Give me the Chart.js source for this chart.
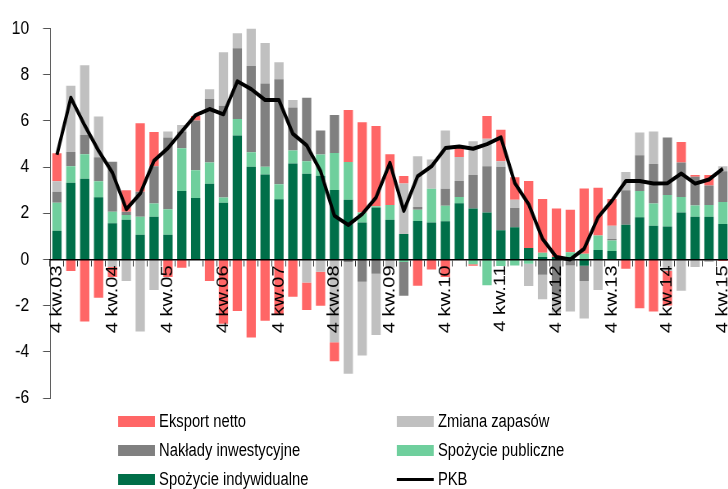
<!DOCTYPE html>
<html>
<head>
<meta charset="utf-8">
<script src="https://cdn.jsdelivr.net/npm/chart.js@4"></script>
<style>
html,body{margin:0;padding:0;width:728px;height:489px;overflow:hidden;background:#fff;}
#wrap{position:absolute;left:0;top:0;width:890px;height:489px;transform:scaleX(0.82);transform-origin:0 0;}
#c{position:absolute;left:0;top:0;}
#legend{position:absolute;left:0;top:0;width:890px;height:489px;font-family:'Liberation Sans',Arial,sans-serif;font-size:18px;color:#000;pointer-events:none;}
.item{position:absolute;height:22px;line-height:22px;white-space:nowrap;}
.sw{position:absolute;left:0;}
.tx{position:absolute;left:50px;top:0;}
</style>
</head>
<body>
<div id="wrap">
<canvas id="c" width="890" height="489"></canvas>
<div id="legend"></div>
</div>
<script>
const categories = [
 '4 kw.03',
 '1 kw.04','2 kw.04','3 kw.04','4 kw.04',
 '1 kw.05','2 kw.05','3 kw.05','4 kw.05',
 '1 kw.06','2 kw.06','3 kw.06','4 kw.06',
 '1 kw.07','2 kw.07','3 kw.07','4 kw.07',
 '1 kw.08','2 kw.08','3 kw.08','4 kw.08',
 '1 kw.09','2 kw.09','3 kw.09','4 kw.09',
 '1 kw.10','2 kw.10','3 kw.10','4 kw.10',
 '1 kw.11','2 kw.11','3 kw.11','4 kw.11',
 '1 kw.12','2 kw.12','3 kw.12','4 kw.12',
 '1 kw.13','2 kw.13','3 kw.13','4 kw.13',
 '1 kw.14','2 kw.14','3 kw.14','4 kw.14',
 '1 kw.15','2 kw.15','3 kw.15','4 kw.15'
];
const spozycieIndywidualne = [1.24,3.32,3.49,2.69,1.56,1.72,1.07,1.85,1.07,2.96,2.66,3.28,2.45,5.36,4.01,3.68,2.60,4.15,3.71,3.62,3.00,2.58,1.60,2.25,1.72,1.10,1.66,1.60,1.65,2.43,2.20,2.03,1.26,1.39,0.49,0.10,0.10,0.10,-0.27,0.41,0.36,1.50,1.82,1.46,1.42,2.03,1.85,1.85,1.53];
const spozyciePubliczne = [1.21,0.71,1.06,0.69,0.50,0.20,0.78,0.57,1.10,1.85,1.20,0.91,0.23,0.72,0.63,0.33,0.65,0.56,0.54,0.92,1.61,1.64,0.43,0.05,0.63,-0.11,0.49,1.46,0.67,0.27,-0.21,-1.12,-0.29,-0.26,-0.19,0.19,0.00,0.21,0.24,0.62,0.46,0.00,1.14,0.96,1.37,0.67,0.48,0.50,0.96];
const nakladyInwestycyjne = [0.48,0.62,0.84,1.04,2.17,0.14,1.08,1.61,3.11,0.73,2.15,2.75,3.97,3.06,3.73,3.60,4.55,1.87,2.75,1.04,1.64,-0.11,-0.97,-0.62,0.00,-1.46,0.12,0.00,0.74,0.69,1.45,2.00,2.75,0.83,0.00,-0.66,-1.50,-0.26,-0.67,0.00,0.06,1.49,1.55,1.71,2.49,1.49,1.25,0.85,1.33];
const zmianaZapasow = [0.45,2.87,3.01,1.77,-0.33,-0.93,-3.12,-1.33,0.26,0.28,0.00,0.43,2.32,0.65,1.63,1.76,0.74,0.32,-1.00,-0.54,-3.59,-4.84,-3.19,-2.65,-0.36,2.19,2.19,1.26,2.52,1.04,1.46,1.19,0.24,0.36,-0.96,-1.06,-0.80,-2.00,-1.62,-1.33,0.58,0.79,0.98,1.41,-0.50,-1.36,-0.33,-0.11,0.21];
const eksportNetto = [1.21,-0.50,-2.69,-1.66,-0.43,0.93,2.96,1.48,-0.76,-0.36,0.20,-0.93,-2.79,-2.23,-3.38,-2.66,-2.40,-1.62,-1.19,-1.47,-0.82,2.25,3.91,3.47,2.20,0.32,-1.14,-0.44,-0.76,0.39,-0.07,0.99,1.36,0.98,2.90,2.32,2.10,1.84,2.83,2.07,1.16,-0.40,-2.12,-2.26,-1.50,0.89,0.07,0.45,-0.07];
const pkb = [4.53,7.00,5.80,4.70,3.75,2.17,2.85,4.28,4.82,5.54,6.25,6.51,6.28,7.71,7.37,6.90,6.90,5.44,4.94,3.82,1.89,1.49,1.96,2.68,4.18,2.10,3.60,4.03,4.82,4.89,4.79,4.99,5.28,3.31,2.39,0.89,0.10,0.00,0.46,1.82,2.54,3.39,3.39,3.29,3.30,3.72,3.28,3.46,3.93];
const yTickValues = [-6,-4,-2,0,2,4,6,8,10];
const legendOrder = ['Eksport netto','Zmiana zapasów','Nakłady inwestycyjne','Spożycie publiczne','Spożycie indywidualne','PKB'];

const FONT = "'Liberation Sans', Arial, sans-serif";

const chart = new Chart(document.getElementById('c'), {
  type: 'bar',
  data: {
    labels: categories,
    datasets: [
      {type:'line', label:'PKB', data:pkb, borderColor:'#000', backgroundColor:'#000', borderWidth:4, pointRadius:0, tension:0, fill:false, order:0, stack:'pkb', borderJoinStyle:'round'},
      {label:'Spożycie indywidualne', data:spozycieIndywidualne, backgroundColor:'#006F49', stack:'s', order:1},
      {label:'Spożycie publiczne', data:spozyciePubliczne, backgroundColor:'#6FCF9D', stack:'s', order:1},
      {label:'Nakłady inwestycyjne', data:nakladyInwestycyjne, backgroundColor:'#808080', stack:'s', order:1},
      {label:'Zmiana zapasów', data:zmianaZapasow, backgroundColor:'#C0C0C0', stack:'s', order:1},
      {label:'Eksport netto', data:eksportNetto, backgroundColor:'#FF6666', stack:'s', order:1}
    ]
  },
  options: {
    responsive:false,
    animation:false,
    devicePixelRatio:1,
    layout:{padding:{top:26,bottom:91,left:0,right:0}},
    plugins:{legend:{display:false}, tooltip:{enabled:false}},
    datasets:{bar:{barPercentage:0.67, categoryPercentage:1}},
    scales:{
      x:{
        stacked:true,
        position:{y:0},
        offset:true,
        grid:{display:true, drawOnChartArea:false, drawTicks:true, tickLength:6, color:'#333', offset:true, z:1},
        border:{display:true, color:'#000', width:1.5, z:1},
        ticks:{
          z:1,
          autoSkip:false, maxRotation:90, minRotation:90, padding:0, color:'#000',
          font:{family:FONT, size:20},
          callback:function(v){ const l = this.getLabelForValue(v); return l.indexOf('4 kw.')===0 ? l : ''; }
        },
        afterFit:function(s){ s.height = 0; s.paddingLeft = 0; s.paddingRight = 0; }
      },
      y:{
        stacked:true,
        min:-6, max:10,
        afterBuildTicks:function(s){ s.ticks = yTickValues.map(v => ({value:v})); },
        grid:{display:true, drawOnChartArea:false, drawTicks:true, tickLength:8.5, color:'#555'},
        border:{display:true, color:'#555', width:1},
        ticks:{padding:17, color:'#000', font:{family:FONT, size:19}},
        afterFit:function(s){ s.width = 61; }
      }
    }
  }
});

// HTML legend built from the chart's datasets
(function(){
  const leg = document.getElementById('legend');
  const colLeft = [144, 484];
  const rowCenter = [421, 450, 479];
  legendOrder.forEach((name, k) => {
    const ds = chart.data.datasets.find(d => d.label === name);
    const it = document.createElement('div');
    it.className = 'item';
    it.style.left = colLeft[k % 2] + 'px';
    it.style.top = (rowCenter[Math.floor(k / 2)] - 11) + 'px';
    const sw = document.createElement('div');
    sw.className = 'sw';
    if (ds.type === 'line') {
      sw.style.top = '9.5px'; sw.style.height = '3px'; sw.style.width = '45px';
      sw.style.background = ds.borderColor;
    } else {
      sw.style.top = '5.5px'; sw.style.height = '11px'; sw.style.width = '45px';
      sw.style.background = ds.backgroundColor;
    }
    const tx = document.createElement('span');
    tx.className = 'tx';
    tx.textContent = ds.label;
    it.appendChild(sw); it.appendChild(tx);
    leg.appendChild(it);
  });
})();
</script>
</body>
</html>
